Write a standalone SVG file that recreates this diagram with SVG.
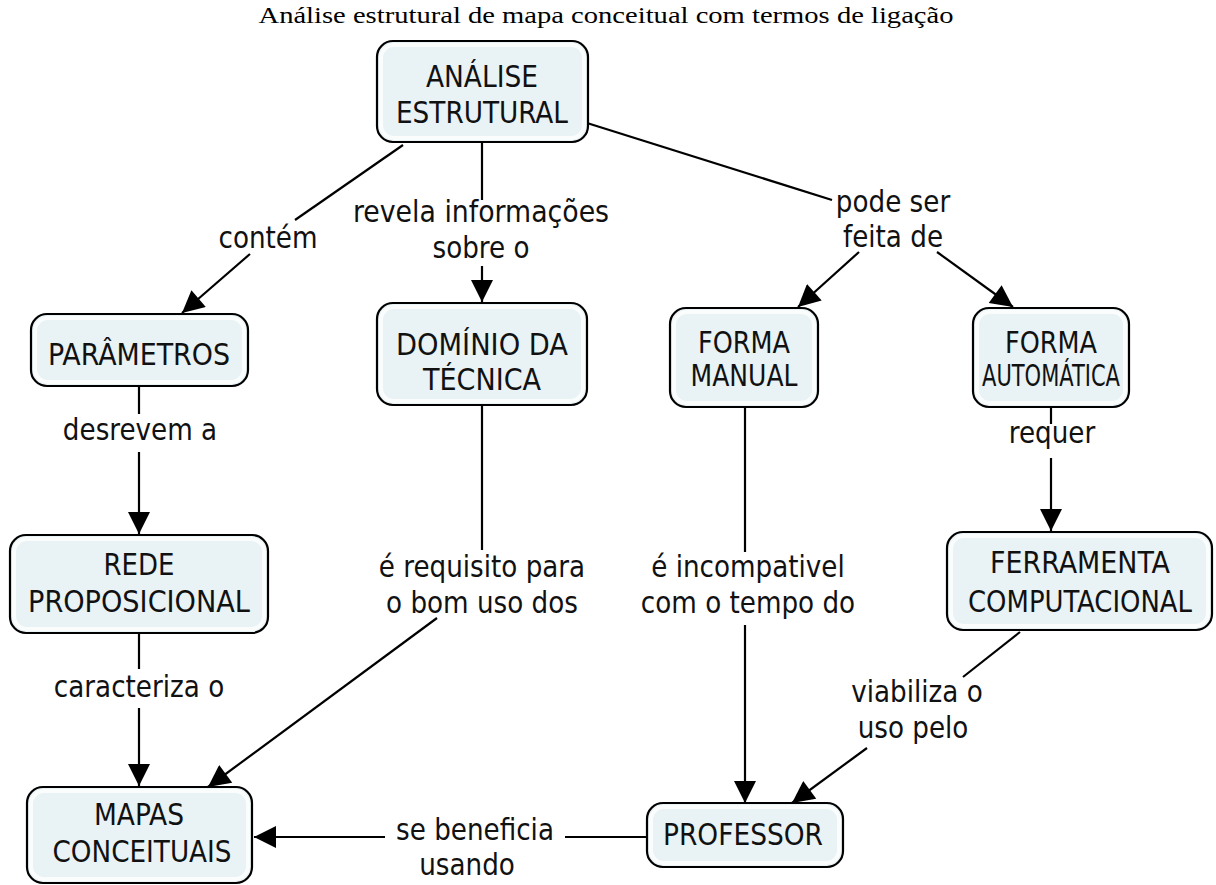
<svg xmlns="http://www.w3.org/2000/svg" width="1216" height="885" viewBox="0 0 1216 885">
<defs>
<marker id="arr" viewBox="0 0 10 10" refX="10" refY="5" markerWidth="27" markerHeight="22" markerUnits="userSpaceOnUse" orient="auto">
<path d="M0,0 L10,5 L0,10 Z" fill="#000"/>
</marker>
</defs>
<style>
.box{fill:#e9f3f6;stroke:#000;stroke-width:2.2}
.inner{fill:none;stroke:#fff;stroke-width:4;opacity:0.8}
.t{font-family:"DejaVu Sans Condensed","DejaVu Sans",sans-serif;font-size:31px;fill:#111;text-anchor:middle}
.l{font-family:"DejaVu Sans Condensed","DejaVu Sans",sans-serif;font-size:31px;fill:#111;text-anchor:middle}
.c{stroke:#000;stroke-width:2.2;fill:none}
.title{font-family:"Liberation Serif",serif;font-size:23px;fill:#000;text-anchor:middle}
</style>
<rect width="1216" height="885" fill="#fff"/>
<text class="title" x="606" y="23" textLength="695" lengthAdjust="spacingAndGlyphs">Análise estrutural de mapa conceitual com termos de ligação</text>

<g id="connectors">
<line class="c" x1="403" y1="145" x2="295" y2="220"/>
<line class="c" x1="250" y1="254" x2="182" y2="313" marker-end="url(#arr)"/>
<line class="c" x1="482" y1="143" x2="482" y2="200"/>
<line class="c" x1="482" y1="266" x2="482" y2="302" marker-end="url(#arr)"/>
<line class="c" x1="587" y1="123" x2="832" y2="200"/>
<line class="c" x1="859" y1="252" x2="798" y2="307" marker-end="url(#arr)"/>
<line class="c" x1="937" y1="252" x2="1013" y2="307" marker-end="url(#arr)"/>
<line class="c" x1="139" y1="386" x2="139" y2="414"/>
<line class="c" x1="139" y1="452" x2="139" y2="534" marker-end="url(#arr)"/>
<line class="c" x1="482" y1="405" x2="482" y2="550"/>
<line class="c" x1="437" y1="618" x2="208" y2="787" marker-end="url(#arr)"/>
<line class="c" x1="745" y1="407" x2="745" y2="552"/>
<line class="c" x1="745" y1="625" x2="745" y2="803" marker-end="url(#arr)"/>
<line class="c" x1="1051" y1="407" x2="1051" y2="424"/>
<line class="c" x1="1051" y1="458" x2="1051" y2="531" marker-end="url(#arr)"/>
<line class="c" x1="139" y1="633" x2="139" y2="669"/>
<line class="c" x1="139" y1="708" x2="139" y2="786" marker-end="url(#arr)"/>
<line class="c" x1="1020" y1="632" x2="963" y2="677"/>
<line class="c" x1="867" y1="748" x2="792" y2="803" marker-end="url(#arr)"/>
<line class="c" x1="647" y1="837" x2="565" y2="837"/>
<line class="c" x1="385" y1="837" x2="254" y2="837" marker-end="url(#arr)"/>
</g>

<g id="labels">
<text class="l" transform="translate(268,248) scale(0.94,1)">contém</text>
<text class="l" transform="translate(481,222) scale(0.96,1)">revela informações</text>
<text class="l" transform="translate(481,258) scale(0.94,1)">sobre o</text>
<text class="l" transform="translate(893,212) scale(0.94,1)">pode ser</text>
<text class="l" transform="translate(893,247) scale(0.94,1)">feita de</text>
<text class="l" transform="translate(140,440) scale(0.94,1)">desrevem a</text>
<text class="l" transform="translate(1052,443) scale(0.94,1)">requer</text>
<text class="l" transform="translate(482,577) scale(0.94,1)">é requisito para</text>
<text class="l" transform="translate(482,613) scale(0.94,1)">o bom uso dos</text>
<text class="l" transform="translate(748,577) scale(0.94,1)">é incompativel</text>
<text class="l" transform="translate(748,613) scale(0.94,1)">com o tempo do</text>
<text class="l" transform="translate(139,697) scale(0.94,1)">caracteriza o</text>
<text class="l" transform="translate(917,702) scale(0.94,1)">viabiliza o</text>
<text class="l" transform="translate(913,738) scale(0.94,1)">uso pelo</text>
<text class="l" transform="translate(475,840) scale(0.94,1)">se beneficia</text>
<text class="l" transform="translate(467,875) scale(0.94,1)">usando</text>
</g>

<g id="n-analise">
<rect class="box" x="377" y="41" width="211" height="101" rx="16"/>
<rect class="inner" x="381" y="45" width="203" height="93" rx="13"/>
<text class="t" x="482" y="87" textLength="112" lengthAdjust="spacingAndGlyphs">ANÁLISE</text>
<text class="t" x="482" y="123" textLength="172" lengthAdjust="spacingAndGlyphs">ESTRUTURAL</text>
</g>
<g id="n-parametros">
<rect class="box" x="31" y="314" width="217" height="72" rx="16"/>
<rect class="inner" x="35" y="318" width="209" height="64" rx="13"/>
<text class="t" x="139" y="365" textLength="182" lengthAdjust="spacingAndGlyphs">PARÂMETROS</text>
</g>
<g id="n-dominio">
<rect class="box" x="377" y="303" width="210" height="102" rx="16"/>
<rect class="inner" x="381" y="307" width="202" height="94" rx="13"/>
<text class="t" x="482" y="355" textLength="172" lengthAdjust="spacingAndGlyphs">DOMÍNIO DA</text>
<text class="t" x="482" y="390" textLength="118" lengthAdjust="spacingAndGlyphs">TÉCNICA</text>
</g>
<g id="n-manual">
<rect class="box" x="670" y="308" width="148" height="99" rx="16"/>
<rect class="inner" x="674" y="312" width="140" height="91" rx="13"/>
<text class="t" x="744" y="353" textLength="92" lengthAdjust="spacingAndGlyphs">FORMA</text>
<text class="t" x="744" y="386" textLength="107" lengthAdjust="spacingAndGlyphs">MANUAL</text>
</g>
<g id="n-automatica">
<rect class="box" x="973" y="308" width="156" height="99" rx="16"/>
<rect class="inner" x="977" y="312" width="148" height="91" rx="13"/>
<text class="t" x="1051" y="353" textLength="92" lengthAdjust="spacingAndGlyphs">FORMA</text>
<text class="t" x="1051" y="386" textLength="138" lengthAdjust="spacingAndGlyphs">AUTOMÁTICA</text>
</g>
<g id="n-rede">
<rect class="box" x="10" y="535" width="258" height="98" rx="16"/>
<rect class="inner" x="14" y="539" width="250" height="90" rx="13"/>
<text class="t" x="139" y="575" textLength="71" lengthAdjust="spacingAndGlyphs">REDE</text>
<text class="t" x="139" y="612" textLength="222" lengthAdjust="spacingAndGlyphs">PROPOSICIONAL</text>
</g>
<g id="n-ferramenta">
<rect class="box" x="947" y="532" width="265" height="98" rx="16"/>
<rect class="inner" x="951" y="536" width="257" height="90" rx="13"/>
<text class="t" x="1080" y="573" textLength="180" lengthAdjust="spacingAndGlyphs">FERRAMENTA</text>
<text class="t" x="1080" y="612" textLength="224" lengthAdjust="spacingAndGlyphs">COMPUTACIONAL</text>
</g>
<g id="n-mapas">
<rect class="box" x="27" y="787" width="225" height="96" rx="16"/>
<rect class="inner" x="31" y="791" width="217" height="88" rx="13"/>
<text class="t" x="139" y="825" textLength="90" lengthAdjust="spacingAndGlyphs">MAPAS</text>
<text class="t" x="142" y="862" textLength="179" lengthAdjust="spacingAndGlyphs">CONCEITUAIS</text>
</g>
<g id="n-professor">
<rect class="box" x="647" y="803" width="196" height="64" rx="16"/>
<rect class="inner" x="651" y="807" width="188" height="56" rx="13"/>
<text class="t" x="743" y="845" textLength="160" lengthAdjust="spacingAndGlyphs">PROFESSOR</text>
</g>
</svg>
